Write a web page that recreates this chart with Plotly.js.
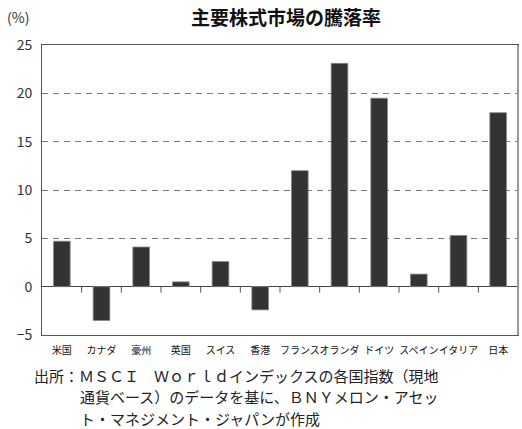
<!DOCTYPE html>
<html>
<head>
<meta charset="utf-8">
<script src="https://cdn.plot.ly/plotly-3.0.1.min.js"></script>
<style>html,body{margin:0;padding:0;background:#fff;}#chart{width:522px;height:429px;}</style>
</head>
<body>
<div id="chart"></div>
<script>
const categories = ["米国","カナダ","豪州","英国","スイス","香港","フランス","オランダ","ドイツ","スペイン","イタリア","日本"];
const values = [4.7, -3.5, 4.1, 0.5, 2.6, -2.4, 12.0, 23.1, 19.5, 1.3, 5.3, 18.0];
const yTicks = [-5, 0, 5, 10, 15, 20, 25];
const titleText = "主要株式市場の騰落率";
const unitText = "(%)";
const sourceLines = [
  "出所：ＭＳＣＩ　Ｗｏｒｌｄインデックスの各国指数（現地",
  "通貨ベース）のデータを基に、ＢＮＹメロン・アセッ",
  "ト・マネジメント・ジャパンが作成"
];

const font = "Noto Sans CJK JP, sans-serif";

const boundaryTicks = categories.slice(1).map((c, i) => ({
  type: "line", xref: "x", yref: "y", x0: i + 0.5, x1: i + 0.5,
  ysizemode: "pixel", yanchor: 0, y0: 0, y1: -6,
  line: {color: "#555", width: 1}
}));
boundaryTicks.push({
  type: "line", xref: "paper", yref: "paper", x0: 1, x1: 1, y0: 0, y1: 1,
  line: {color: "#999", width: 2}
});

const data = [{
  type: "bar",
  x: categories,
  y: values,
  width: 0.42,
  marker: {color: "#333333", line: {color: "#888", width: 0.8}},
  hoverinfo: "x+y"
}];

const srcFont = {family: font, size: 15, color: "#222"};

const layout = {
  width: 522, height: 429,
  margin: {l: 42, r: 4, t: 45, b: 94},
  paper_bgcolor: "#fff", plot_bgcolor: "#fff",
  showlegend: false,
  font: {family: font, color: "#222"},
  title: {text: titleText, font: {family: font, size: 19, color: "#111", weight: "bold"},
          x: 0.548, xanchor: "center", y: 0.958, yanchor: "middle"},
  xaxis: {
    type: "category",
    tickfont: {family: font, size: 10, color: "#111"},
    tickangle: 0, ticklabelstandoff: 6,
    showline: true, mirror: true, linecolor: "#555", linewidth: 1,
    ticks: "", showgrid: false, fixedrange: true
  },
  yaxis: {
    range: [-5, 25],
    tickvals: yTicks,
    tickfont: {family: font, size: 14, color: "#333"},
    showline: true, mirror: true, linecolor: "#555", linewidth: 1,
    ticks: "", ticklabelstandoff: 6,
    showgrid: true, gridcolor: "#7a7a7a", griddash: "6px,5px", gridwidth: 1,
    zeroline: true, zerolinecolor: "#444", zerolinewidth: 1,
    fixedrange: true
  },
  shapes: boundaryTicks,
  annotations: [
    {text: unitText, xref: "paper", yref: "paper", x: -0.078, y: 1.095,
     xanchor: "left", yanchor: "middle", showarrow: false,
     font: {family: font, size: 14, color: "#333"}},
    {text: sourceLines[0], xref: "paper", yref: "paper", x: -0.02, y: -0.1385,
     xanchor: "left", yanchor: "middle", showarrow: false, font: srcFont},
    {text: sourceLines[1], xref: "paper", yref: "paper", x: 0.076, y: -0.2125,
     xanchor: "left", yanchor: "middle", showarrow: false, font: srcFont},
    {text: sourceLines[2], xref: "paper", yref: "paper", x: 0.076, y: -0.2875,
     xanchor: "left", yanchor: "middle", showarrow: false, font: srcFont}
  ]
};

Plotly.newPlot("chart", data, layout, {displayModeBar: false, staticPlot: true});
</script>
</body>
</html>
